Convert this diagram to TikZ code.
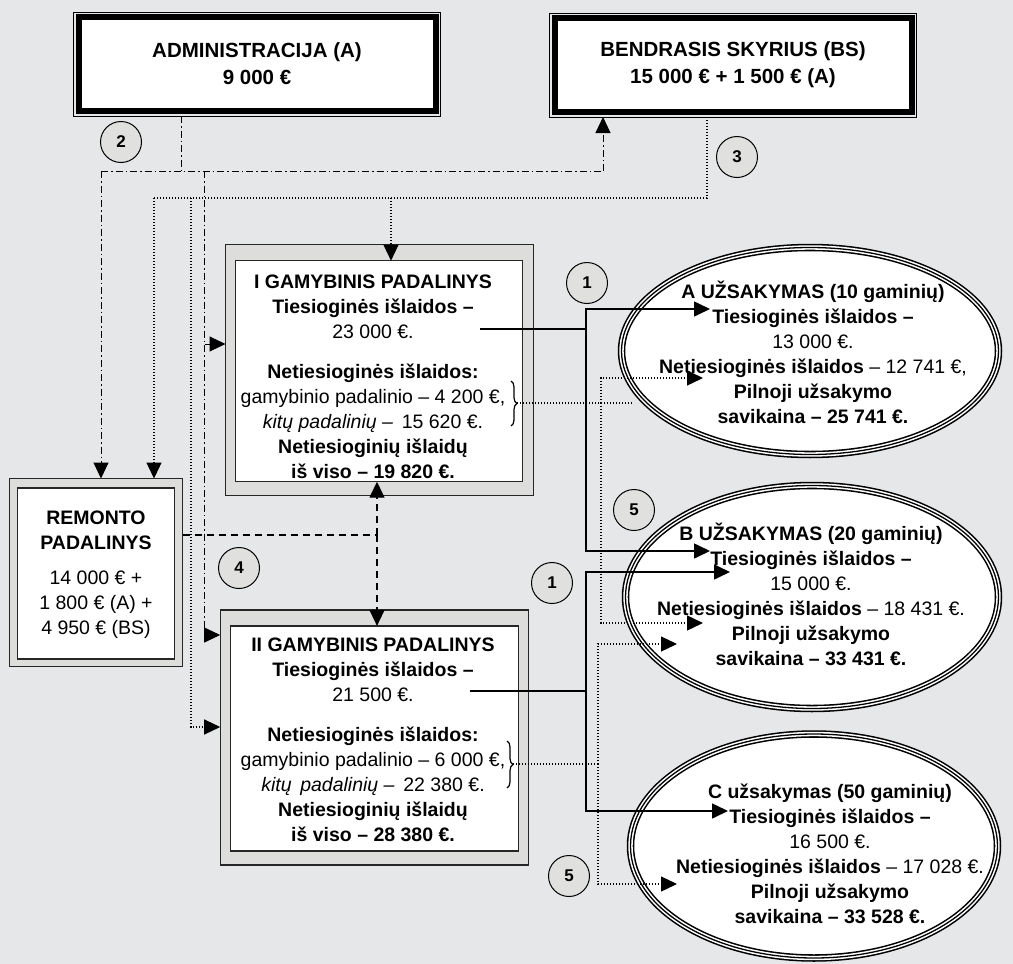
\documentclass[tikz,border=0pt]{standalone}
\usepackage{fontspec}
\setmainfont{Liberation Sans}
\usetikzlibrary{arrows.meta,shapes.geometric,decorations.pathreplacing}
\definecolor{bggray}{RGB}{230,231,233}
\definecolor{bandgray}{RGB}{221,221,219}
\definecolor{numgray}{RGB}{224,224,222}
\tikzset{
  arr/.style={-{Triangle[length=16pt,width=15pt]}},
  aline/.style={line width=1pt, dash pattern=on 7pt off 3pt on 1.5pt off 3pt},
  bline/.style={line width=1.3pt, dash pattern=on 1.3pt off 1.7pt},
  rline/.style={line width=1.4pt, dash pattern=on 7pt off 5pt},
  dline/.style={line width=1.6pt},
  txt/.style={align=center, inner sep=0pt, font=\fontsize{19.5}{25}\selectfont},
  outframe/.style={draw, line width=0.9pt, inner sep=0pt, outer sep=0pt, minimum width=367pt, minimum height=104pt},
  topbox/.style={draw, fill=white, line width=6pt, inner sep=0pt, outer sep=0pt, minimum width=357pt, minimum height=94pt, align=center, font=\bfseries\fontsize{20.5}{27}\selectfont},
  bandbox/.style={draw=black!85, fill=bandgray, line width=1.2pt, inner sep=0pt, outer sep=0pt},
  whitebox/.style={draw=black!85, fill=white, line width=1.2pt, inner sep=0pt, outer sep=0pt},
  order/.style={ellipse, preaction={fill=white}, preaction={draw, line width=7.5pt}, preaction={draw=white, line width=4.4pt}, draw, line width=1.3pt, inner sep=0pt, outer sep=0pt},
  num/.style={circle, draw, fill=numgray, line width=1pt, minimum size=41pt, inner sep=0pt, font=\bfseries\fontsize{17}{17}\selectfont},
  bracemark/.style={decorate, decoration={brace, amplitude=6pt}, line width=1.2pt}
}

\begin{document}
\begin{tikzpicture}[x=1pt, y=-1pt]
    \fill[bggray] (0,0) rectangle (1013,964);
    \useasboundingbox (0,0) rectangle (1013,964);

    \node[outframe] (admF) at (257,64) {};
    \node[topbox] (adm) at (257,64) {ADMINISTRACIJA (A)\\9 000 €};
    \node[outframe] (bsF) at (733,65) {};
    \node[topbox] (bs) at (733,65) {BENDRASIS SKYRIUS (BS)\\15 000 € + 1 500 € (A)};

    \node[bandbox, minimum width=173pt, minimum height=188pt] (remF) at (96,572.5) {};
    \node[whitebox, minimum width=157pt, minimum height=171pt] (rem) at (96,573.4) {};
    \node[txt] (remT) at (96,575) {\textbf{REMONTO}\\\textbf{PADALINYS}\\[10pt]14 000 € +\\1 800 € (A) +\\4 950 € (BS)};

    \node[bandbox, minimum width=308pt, minimum height=251pt] (g1F) at (379.5,370.3) {};
    \node[whitebox, minimum width=287pt, minimum height=221pt] (g1) at (379.2,371.2) {};
    \node[txt] (g1T) at (373,377) {\textbf{I GAMYBINIS PADALINYS}\\\textbf{Tiesioginės išlaidos –}\\23 000 €.\\[15pt]\textbf{Netiesioginės išlaidos:}\\gamybinio padalinio – 4 200 €,\\\textit{kitų padalinių –}\, 15 620 €.\\\textbf{Netiesioginių išlaidų}\\\textbf{iš viso – 19 820 €.}};

    \node[bandbox, minimum width=308pt, minimum height=255pt] (g2F) at (374.2,737.5) {};
    \node[whitebox, minimum width=288pt, minimum height=225pt] (g2) at (374.5,738.4) {};
    \node[txt] (g2T) at (373,740) {\textbf{II GAMYBINIS PADALINYS}\\\textbf{Tiesioginės išlaidos –}\\21 500 €.\\[15pt]\textbf{Netiesioginės išlaidos:}\\gamybinio padalinio – 6 000 €,\\\textit{kitų\, padalinių –}\, 22 380 €.\\\textbf{Netiesioginių išlaidų}\\\textbf{iš viso – 28 380 €.}};

    \node[order, minimum width=377pt, minimum height=207pt] (ordA) at (810,351) {};
    \node[order, minimum width=373pt, minimum height=223pt] (ordB) at (812,597) {};
    \node[order, minimum width=367pt, minimum height=224pt] (ordC) at (814,846) {};

    \draw[bracemark] (511,381) -- (511,426);
    \draw[bracemark] (507,741) -- (507,788);

    \coordinate (aS) at (181,171);
    \coordinate (aL) at (101,171);
    \coordinate (aV) at (204,171);
    \coordinate (aR) at (603,171);
    \draw[aline] (admF.south -| aS) -- (aS);
    \draw[aline] (aL) -- (aR);
    \draw[aline, arr] (aL) -- (aL |- remF.north);
    \draw[aline, arr] (aR) -- (aR |- bsF.south);
    \draw[aline, arr] (aV) |- (g1F.west |- 0,344);
    \draw[aline, arr] (aV) |- (g2F.west |- 0,635);

    \coordinate (bS) at (707,198);
    \coordinate (bL) at (154,198);
    \coordinate (bII) at (191,198);
    \coordinate (bI) at (391,198);
    \draw[bline] (bsF.south -| bS) -- (bS) -- (bL);
    \draw[bline, arr] (bL) -- (bL |- remF.north);
    \draw[bline, arr] (bI) -- (bI |- g1.north);
    \draw[bline, arr] (bII) |- (g2F.west |- 0,727);

    \coordinate (rJ) at (377,535);
    \draw[rline] (remF.east |- rJ) -- (rJ);
    \draw[rline, arr] (rJ) -- (rJ |- g1.south);
    \draw[rline, arr] (rJ) -- (rJ |- g2.north);

    \coordinate (d1s) at (480,329);
    \coordinate (d1j) at (586,329);
    \coordinate (d1a) at (710,309);
    \coordinate (d1b) at (710,551);
    \draw[dline] (d1s) -- (d1j);
    \draw[dline, arr] (d1j) |- (d1a);
    \draw[dline, arr] (d1j) |- (d1b);

    \coordinate (d2s) at (470,691);
    \coordinate (d2j) at (586,691);
    \coordinate (d2a) at (730,572);
    \coordinate (d2b) at (728,811);
    \draw[dline] (d2s) -- (d2j);
    \draw[dline, arr] (d2j) |- (d2a);
    \draw[dline, arr] (d2j) |- (d2b);

    \coordinate (br1) at (517,403);
    \coordinate (i1j) at (601,403);
    \coordinate (i1e) at (633,403);
    \coordinate (i1a) at (703,378);
    \coordinate (i1b) at (703,623);
    \draw[bline] (br1) -- (i1e);
    \draw[bline, arr] (i1j) |- (i1a);
    \draw[bline, arr] (i1j) |- (i1b);

    \coordinate (br2) at (513,764);
    \coordinate (i2j) at (598,764);
    \coordinate (i2a) at (677,644);
    \coordinate (i2b) at (677,884);
    \draw[bline] (br2) -- (i2j);
    \draw[bline, arr] (i2j) |- (i2a);
    \draw[bline, arr] (i2j) |- (i2b);

    \node[txt] (ordAT) at (813,352) {\textbf{A UŽSAKYMAS (10 gaminių)}\\\textbf{Tiesioginės išlaidos –}\\13 000 €.\\\textbf{Netiesioginės išlaidos} – 12 741 €,\\\textbf{Pilnoji užsakymo}\\\textbf{savikaina – 25 741 €.}};
    \node[txt] (ordBT) at (811,594) {\textbf{B UŽSAKYMAS (20 gaminių)}\\\textbf{Tiesioginės išlaidos –}\\15 000 €.\\\textbf{Netiesioginės išlaidos} – 18 431 €.\\\textbf{Pilnoji užsakymo}\\\textbf{savikaina – 33 431 €.}};
    \node[txt] (ordCT) at (830,854) {\textbf{C užsakymas (50 gaminių)}\\\textbf{Tiesioginės išlaidos –}\\16 500 €.\\\textbf{Netiesioginės išlaidos} – 17 028 €.\\\textbf{Pilnoji užsakymo}\\\textbf{savikaina – 33 528 €.}};

    \node[num] (n2) at (121,142) {2};
    \node[num] (n3) at (737,157) {3};
    \node[num] (n4) at (239,568) {4};
    \node[num] (n1a) at (587,283) {1};
    \node[num] (n5a) at (634,510) {5};
    \node[num] (n1b) at (552,583) {1};
    \node[num] (n5b) at (569,876) {5};
\end{tikzpicture}
\end{document}
